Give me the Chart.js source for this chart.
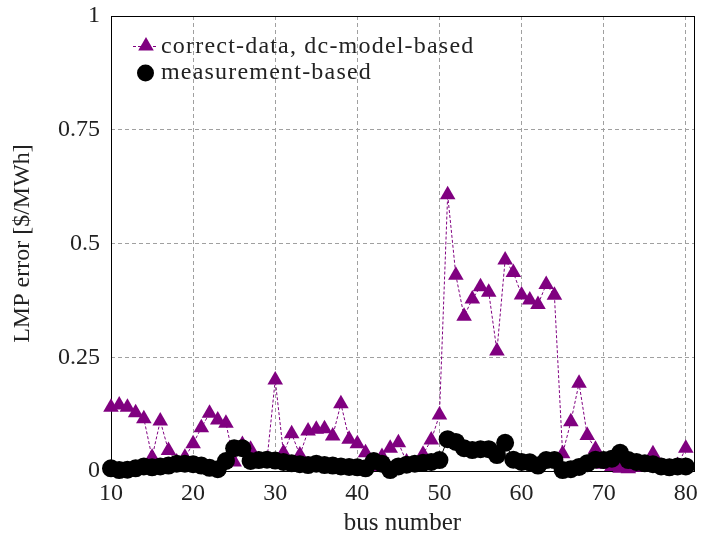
<!DOCTYPE html>
<html>
<head>
<meta charset="utf-8">
<script src="https://cdn.jsdelivr.net/npm/chart.js@4/dist/chart.umd.min.js"></script>
<style>
  html, body { margin: 0; padding: 0; background: #ffffff; }
  #wrap { width: 703px; height: 542px; }
</style>
</head>
<body>
<div id="wrap"><canvas id="c" width="703" height="542"></canvas></div>
<script>
const busNumbers = [10,11,12,13,14,15,16,17,18,19,20,21,22,23,24,25,26,27,28,29,30,31,32,33,34,35,36,37,38,39,40,41,42,43,44,45,46,47,48,49,50,51,52,53,54,55,56,57,58,59,60,61,62,63,64,65,66,67,68,69,70,71,72,73,74,75,76,77,78,79,80];

const dcModelError = [0.14,0.145,0.14,0.128,0.115,0.03,0.11,0.045,0.02,0.03,
  0.06,0.095,0.127,0.112,0.105,0.02,0.058,0.048,0.025,0.025,
  0.2,0.04,0.082,0.035,0.088,0.092,0.093,0.077,0.148,0.07,
  0.06,0.04,0.01,0.032,0.05,0.062,0.02,0.015,0.037,0.068,
  0.123,0.607,0.43,0.34,0.378,0.405,0.393,0.264,0.464,0.436,
  0.387,0.376,0.366,0.41,0.386,0.038,0.108,0.193,0.078,0.048,
  0.015,0.01,0.006,0.005,0.008,0.015,0.038,0.01,0.008,0.012,0.05];

const measurementError = [0.006,0.002,0.003,0.006,0.01,0.008,0.01,0.012,0.016,0.016,
  0.015,0.012,0.007,0.004,0.022,0.05,0.05,0.022,0.024,0.025,
  0.023,0.02,0.017,0.015,0.013,0.016,0.013,0.012,0.01,0.009,
  0.008,0.006,0.022,0.016,0.002,0.01,0.014,0.016,0.018,0.02,
  0.024,0.07,0.064,0.05,0.046,0.048,0.048,0.035,0.062,0.025,
  0.02,0.019,0.012,0.024,0.024,0.002,0.004,0.009,0.017,0.025,
  0.024,0.027,0.04,0.024,0.02,0.017,0.015,0.01,0.008,0.01,0.01];

const xTicks = [10,20,30,40,50,60,70,80];
const yTicks = [0,0.25,0.5,0.75,1];
const seriesNames = ['correct-data, dc-model-based','measurement-based'];

const PURPLE = '#800080';
const FONT = '"Liberation Serif", "Times New Roman", serif';

const boxPlugin = {
  id: 'box',
  beforeDatasetsDraw(chart) {
    const a = chart.chartArea, ctx = chart.ctx;
    ctx.save();
    ctx.strokeStyle = '#000';
    ctx.lineWidth = 1;
    ctx.setLineDash([]);
    ctx.strokeRect(Math.round(a.left) + 0.5, Math.round(a.top) + 0.5,
      Math.round(a.right - a.left), Math.round(a.bottom - a.top));
    ctx.restore();
  }
};

const legendPlugin = {
  id: 'innerLegend',
  afterDraw(chart) {
    const ctx = chart.ctx;
    ctx.save();
    // entry 1
    ctx.strokeStyle = PURPLE;
    ctx.lineWidth = 1;
    ctx.setLineDash([3, 2]);
    ctx.beginPath();
    ctx.moveTo(133, 46.5);
    ctx.lineTo(158, 46.5);
    ctx.stroke();
    ctx.setLineDash([]);
    ctx.fillStyle = PURPLE;
    Chart.helpers.drawPoint(ctx, {pointStyle: 'triangle', radius: 9, borderWidth: 0}, 146, 46);
    // entry 2
    ctx.fillStyle = '#000';
    ctx.strokeStyle = '#000';
    Chart.helpers.drawPoint(ctx, {pointStyle: 'circle', radius: 8.5, borderWidth: 0}, 145.5, 73);
    ctx.fillStyle = '#222';
    ctx.font = '24px ' + FONT;
    if ('letterSpacing' in ctx) ctx.letterSpacing = '1.2px';
    ctx.textBaseline = 'middle';
    ctx.textAlign = 'left';
    ctx.fillText(seriesNames[0], 161, 47);
    ctx.fillText(seriesNames[1], 161, 73);
    ctx.restore();
  }
};

new Chart(document.getElementById('c'), {
  type: 'line',
  data: {
    datasets: [
      {
        label: seriesNames[0],
        data: busNumbers.map((b, i) => ({x: b, y: dcModelError[i]})),
        borderColor: PURPLE,
        backgroundColor: PURPLE,
        borderWidth: 1,
        borderDash: [3, 2],
        pointStyle: 'triangle',
        pointRadius: 9,
        pointBorderWidth: 0,
        pointBackgroundColor: PURPLE,
        tension: 0,
        clip: false,
        order: 1
      },
      {
        label: seriesNames[1],
        data: busNumbers.map((b, i) => ({x: b, y: measurementError[i]})),
        borderColor: '#000',
        backgroundColor: '#000',
        borderWidth: 1,
        pointStyle: 'circle',
        pointRadius: 9,
        pointBorderWidth: 0,
        pointBackgroundColor: '#000',
        tension: 0,
        clip: false,
        order: 0
      }
    ]
  },
  options: {
    responsive: false,
    animation: false,
    devicePixelRatio: 1,
    layout: { padding: { left: 0, right: 5, top: 16, bottom: 0 } },
    plugins: {
      legend: { display: false },
      tooltip: { enabled: false }
    },
    scales: {
      x: {
        type: 'linear',
        min: 10,
        max: 81,
        afterBuildTicks(s) { s.ticks = xTicks.map(v => ({value: v})); },
        afterFit(s) { s.height = 71; s.paddingLeft = 0; s.paddingRight = 0; },
        ticks: {
          includeBounds: false,
          autoSkip: false,
          maxRotation: 0,
          padding: 8,
          color: '#222',
          font: { family: FONT, size: 24 },
          callback: v => String(v)
        },
        grid: {
          color: '#a0a0a0',
          lineWidth: 1,
          drawTicks: false
        },
        border: { display: false, dash: [4, 3] },
        title: {
          display: true,
          text: 'bus number',
          color: '#222',
          font: { family: FONT, size: 25 },
          padding: { top: 0, bottom: 4 }
        }
      },
      y: {
        type: 'linear',
        min: 0,
        max: 1,
        afterBuildTicks(s) { s.ticks = yTicks.map(v => ({value: v})); },
        afterFit(s) { s.width = 111; s.paddingTop = 0; s.paddingBottom = 0; },
        ticks: {
          includeBounds: false,
          autoSkip: false,
          padding: 11,
          color: '#222',
          font: { family: FONT, size: 24 },
          callback: v => String(v)
        },
        grid: {
          color: '#a0a0a0',
          lineWidth: 1,
          drawTicks: false
        },
        border: { display: false, dash: [4, 3] },
        title: {
          display: true,
          text: 'LMP error [$/MWh]',
          color: '#222',
          font: { family: FONT, size: 24 },
          padding: { top: 8, bottom: 0 }
        }
      }
    }
  },
  plugins: [boxPlugin, legendPlugin]
});
</script>
</body>
</html>
